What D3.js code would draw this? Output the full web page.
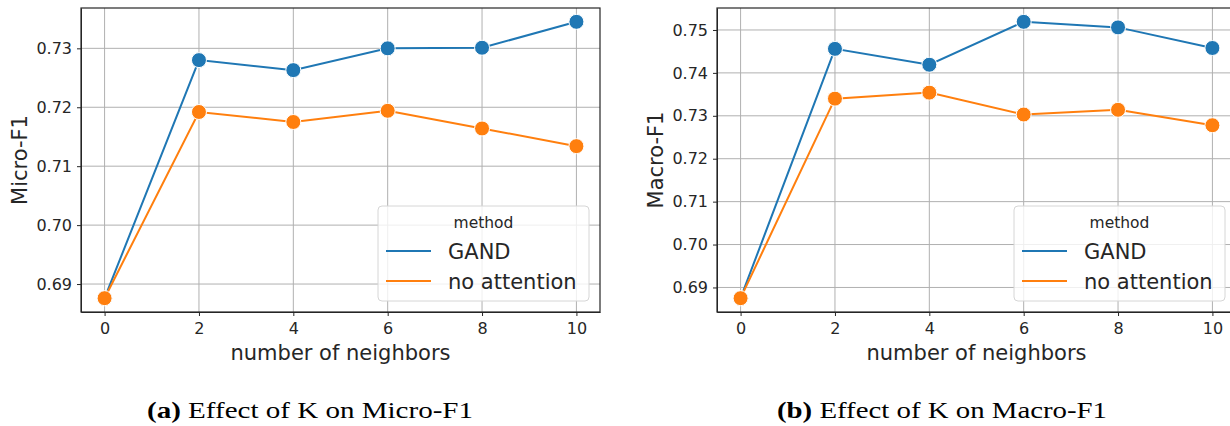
<!DOCTYPE html>
<html>
<head>
<meta charset="utf-8">
<script src="https://cdn.jsdelivr.net/npm/d3@7"></script>
<style>
    body { margin: 0; background: #fff; }
    svg { display: block; }
    .axis text { font-family: "DejaVu Sans", sans-serif; font-size: 16px; fill: #262626; }
    .axis path, .axis line { stroke: #262626; }
</style>
</head>
<body>
<div id="chart"></div>
<script>
// number of neighbors (K)
const kValues = [0, 2, 4, 6, 8, 10];
const methods = ["GAND", "no attention"];

// values
const microGand = [0.6876, 0.7280, 0.7263, 0.7300, 0.7301, 0.7345];
const microNoAttention = [0.6876, 0.7192, 0.7175, 0.7194, 0.7164, 0.7134];
const macroGand = [0.6875, 0.7456, 0.7419, 0.7519, 0.7506, 0.7458];
const macroNoAttention = [0.6875, 0.7340, 0.7354, 0.7303, 0.7314, 0.7278];

const xTicks = [0, 2, 4, 6, 8, 10];
const microTicks = [0.69, 0.70, 0.71, 0.72, 0.73];
const macroTicks = [0.69, 0.70, 0.71, 0.72, 0.73, 0.74, 0.75];

const colors = ["#1f77b4", "#ff7f0e"];

const svg = d3.select("#chart").append("svg")
    .attr("width", 1230)
    .attr("height", 426);

svg.append("rect")
    .attr("width", 1230)
    .attr("height", 426)
    .attr("fill", "white");

// matplotlib-style 5% margins
function padded(ext) {
    let m = (ext[1] - ext[0]) * 0.05;
    return [ext[0] - m, ext[1] + m];
}

function drawPanel(opts) {
    let width = 519, height = 304;
    let g = svg.append("g")
        .attr("transform", "translate(" + opts.left + "," + opts.top + ")");

    let allVals = opts.series.flat();
    let x = d3.scaleLinear().domain(padded(d3.extent(kValues))).range([0, width]);
    let y = d3.scaleLinear().domain(padded(d3.extent(allVals))).range([height, 0]);

    // grid
    g.selectAll(".vgrid")
        .data(xTicks)
        .enter().append("line")
        .attr("x1", d => x(d)).attr("x2", d => x(d))
        .attr("y1", 0).attr("y2", height)
        .attr("stroke", "#b0b0b0").attr("stroke-width", 1);

    g.selectAll(".hgrid")
        .data(opts.yTicks)
        .enter().append("line")
        .attr("x1", 0).attr("x2", width)
        .attr("y1", d => y(d)).attr("y2", d => y(d))
        .attr("stroke", "#b0b0b0").attr("stroke-width", 1);

    // axes
    g.append("g")
        .attr("class", "axis")
        .attr("transform", "translate(0," + height + ")")
        .call(d3.axisBottom(x).tickValues(xTicks).tickFormat(d3.format("d"))
            .tickSizeInner(4).tickSizeOuter(0).tickPadding(7));

    g.append("g")
        .attr("class", "axis")
        .call(d3.axisLeft(y).tickValues(opts.yTicks).tickFormat(d3.format(".2f"))
            .tickSizeInner(4).tickSizeOuter(0).tickPadding(5));

    // frame
    g.append("rect")
        .attr("width", width)
        .attr("height", height)
        .attr("fill", "none")
        .attr("stroke", "#262626")
        .attr("stroke-width", 1.2);

    // lines and markers
    const line = d3.line()
        .x((d, i) => x(kValues[i]))
        .y(d => y(d));

    opts.series.forEach((vals, s) => {
        g.append("path")
            .datum(vals)
            .attr("fill", "none")
            .attr("stroke", colors[s])
            .attr("stroke-width", 2)
            .attr("d", line);

        g.selectAll(".pt" + s)
            .data(vals)
            .enter().append("circle")
            .attr("cx", (d, i) => x(kValues[i]))
            .attr("cy", d => y(d))
            .attr("r", 7.5)
            .attr("fill", colors[s])
            .attr("stroke", "white")
            .attr("stroke-width", 1);
    });

    // axis labels
    g.append("text")
        .attr("x", width / 2)
        .attr("y", height + 48)
        .attr("text-anchor", "middle")
        .attr("font-family", "DejaVu Sans, sans-serif")
        .attr("font-size", 21)
        .attr("fill", "#262626")
        .text("number of neighbors");

    g.append("text")
        .attr("transform", "translate(-54," + (height / 2) + ") rotate(-90)")
        .attr("text-anchor", "middle")
        .attr("font-family", "DejaVu Sans, sans-serif")
        .attr("font-size", 21)
        .attr("fill", "#262626")
        .text(opts.yLabel);

    // legend, lower right
    let lw = 211, lh = 95;
    let lg = g.append("g")
        .attr("transform", "translate(" + (width - 11 - lw) + "," + (height - 11 - lh) + ")");

    lg.append("rect")
        .attr("width", lw)
        .attr("height", lh)
        .attr("rx", 4)
        .attr("fill", "white")
        .attr("fill-opacity", 0.8)
        .attr("stroke", "#d6d6d6");

    lg.append("text")
        .attr("x", lw / 2)
        .attr("y", 21.5)
        .attr("text-anchor", "middle")
        .attr("font-family", "DejaVu Sans, sans-serif")
        .attr("font-size", 15.5)
        .attr("fill", "#262626")
        .text("method");

    methods.forEach((m, i) => {
        let ly = 45 + i * 30;
        lg.append("line")
            .attr("x1", 8).attr("x2", 53)
            .attr("y1", ly).attr("y2", ly)
            .attr("stroke", colors[i])
            .attr("stroke-width", 2);
        lg.append("text")
            .attr("x", 70)
            .attr("y", ly + 7.8)
            .attr("font-family", "DejaVu Sans, sans-serif")
            .attr("font-size", 21)
            .attr("fill", "#262626")
            .text(m);
    });
}

drawPanel({ left: 81, top: 8, series: [microGand, microNoAttention], yTicks: microTicks, yLabel: "Micro-F1" });
drawPanel({ left: 717, top: 8, series: [macroGand, macroNoAttention], yTicks: macroTicks, yLabel: "Macro-F1" });

// captions
function caption(x0, x1, tag, label) {
    let t = svg.append("text")
        .attr("x", x0)
        .attr("y", 418)
        .attr("font-family", "Liberation Serif, DejaVu Serif, serif")
        .attr("font-size", 24)
        .attr("fill", "black")
        .attr("textLength", x1 - x0)
        .attr("lengthAdjust", "spacingAndGlyphs");
    t.append("tspan").attr("font-weight", "bold").text(tag);
    t.append("tspan").text(" " + label);
}

caption(147, 473, "(a)", "Effect of K on Micro-F1");
caption(777, 1107, "(b)", "Effect of K on Macro-F1");
</script>
</body>
</html>
